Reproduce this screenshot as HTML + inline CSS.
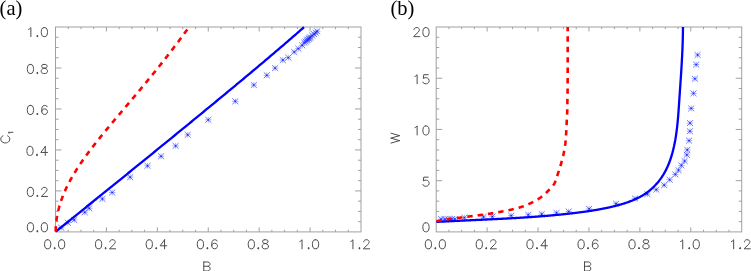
<!DOCTYPE html>
<html><head><meta charset="utf-8"><style>
html,body{margin:0;padding:0;background:#fff;width:751px;height:271px;overflow:hidden}
svg{display:block;will-change:transform}
.tl{font-family:"Liberation Sans",sans-serif;font-size:14.4px;fill:#4c4c4c;letter-spacing:0.6px}
.ax{font-family:"Liberation Sans",sans-serif;font-size:14px;fill:#4c4c4c}
.pl{font-family:"Liberation Serif",serif;font-size:22px;fill:#000}
</style></head><body>
<svg width="751" height="271" viewBox="0 0 751 271">
<rect width="751" height="271" fill="#fff"/>

<rect x="55.50" y="27.00" width="305.50" height="204.90" fill="none" stroke="#a0a0a0" stroke-width="1"/>
<path d="M68.23 231.90v-2.2M68.23 27.00v2.2M80.96 231.90v-2.2M80.96 27.00v2.2M93.69 231.90v-2.2M93.69 27.00v2.2M106.42 231.90v-4.5M106.42 27.00v4.5M119.15 231.90v-2.2M119.15 27.00v2.2M131.88 231.90v-2.2M131.88 27.00v2.2M144.60 231.90v-2.2M144.60 27.00v2.2M157.33 231.90v-4.5M157.33 27.00v4.5M170.06 231.90v-2.2M170.06 27.00v2.2M182.79 231.90v-2.2M182.79 27.00v2.2M195.52 231.90v-2.2M195.52 27.00v2.2M208.25 231.90v-4.5M208.25 27.00v4.5M220.98 231.90v-2.2M220.98 27.00v2.2M233.71 231.90v-2.2M233.71 27.00v2.2M246.44 231.90v-2.2M246.44 27.00v2.2M259.17 231.90v-4.5M259.17 27.00v4.5M271.90 231.90v-2.2M271.90 27.00v2.2M284.62 231.90v-2.2M284.62 27.00v2.2M297.35 231.90v-2.2M297.35 27.00v2.2M310.08 231.90v-4.5M310.08 27.00v4.5M322.81 231.90v-2.2M322.81 27.00v2.2M335.54 231.90v-2.2M335.54 27.00v2.2M348.27 231.90v-2.2M348.27 27.00v2.2M55.50 221.66h3.0M361.00 221.66h-3.0M55.50 211.41h3.0M361.00 211.41h-3.0M55.50 201.16h3.0M361.00 201.16h-3.0M55.50 190.92h6.0M361.00 190.92h-6.0M55.50 180.68h3.0M361.00 180.68h-3.0M55.50 170.43h3.0M361.00 170.43h-3.0M55.50 160.19h3.0M361.00 160.19h-3.0M55.50 149.94h6.0M361.00 149.94h-6.0M55.50 139.69h3.0M361.00 139.69h-3.0M55.50 129.45h3.0M361.00 129.45h-3.0M55.50 119.20h3.0M361.00 119.20h-3.0M55.50 108.96h6.0M361.00 108.96h-6.0M55.50 98.72h3.0M361.00 98.72h-3.0M55.50 88.47h3.0M361.00 88.47h-3.0M55.50 78.22h3.0M361.00 78.22h-3.0M55.50 67.98h6.0M361.00 67.98h-6.0M55.50 57.73h3.0M361.00 57.73h-3.0M55.50 47.49h3.0M361.00 47.49h-3.0M55.50 37.24h3.0M361.00 37.24h-3.0" stroke="#a0a0a0" stroke-width="1" fill="none"/>
<rect x="436.20" y="27.00" width="305.50" height="204.90" fill="none" stroke="#a0a0a0" stroke-width="1"/>
<path d="M448.93 231.90v-2.2M448.93 27.00v2.2M461.66 231.90v-2.2M461.66 27.00v2.2M474.39 231.90v-2.2M474.39 27.00v2.2M487.12 231.90v-4.5M487.12 27.00v4.5M499.85 231.90v-2.2M499.85 27.00v2.2M512.58 231.90v-2.2M512.58 27.00v2.2M525.30 231.90v-2.2M525.30 27.00v2.2M538.03 231.90v-4.5M538.03 27.00v4.5M550.76 231.90v-2.2M550.76 27.00v2.2M563.49 231.90v-2.2M563.49 27.00v2.2M576.22 231.90v-2.2M576.22 27.00v2.2M588.95 231.90v-4.5M588.95 27.00v4.5M601.68 231.90v-2.2M601.68 27.00v2.2M614.41 231.90v-2.2M614.41 27.00v2.2M627.14 231.90v-2.2M627.14 27.00v2.2M639.87 231.90v-4.5M639.87 27.00v4.5M652.60 231.90v-2.2M652.60 27.00v2.2M665.33 231.90v-2.2M665.33 27.00v2.2M678.05 231.90v-2.2M678.05 27.00v2.2M690.78 231.90v-4.5M690.78 27.00v4.5M703.51 231.90v-2.2M703.51 27.00v2.2M716.24 231.90v-2.2M716.24 27.00v2.2M728.97 231.90v-2.2M728.97 27.00v2.2M436.20 221.66h3.0M741.70 221.66h-3.0M436.20 211.41h3.0M741.70 211.41h-3.0M436.20 201.17h3.0M741.70 201.17h-3.0M436.20 190.92h3.0M741.70 190.92h-3.0M436.20 180.68h6.0M741.70 180.68h-6.0M436.20 170.43h3.0M741.70 170.43h-3.0M436.20 160.19h3.0M741.70 160.19h-3.0M436.20 149.94h3.0M741.70 149.94h-3.0M436.20 139.69h3.0M741.70 139.69h-3.0M436.20 129.45h6.0M741.70 129.45h-6.0M436.20 119.20h3.0M741.70 119.20h-3.0M436.20 108.96h3.0M741.70 108.96h-3.0M436.20 98.72h3.0M741.70 98.72h-3.0M436.20 88.47h3.0M741.70 88.47h-3.0M436.20 78.22h6.0M741.70 78.22h-6.0M436.20 67.98h3.0M741.70 67.98h-3.0M436.20 57.74h3.0M741.70 57.74h-3.0M436.20 47.49h3.0M741.70 47.49h-3.0M436.20 37.25h3.0M741.70 37.25h-3.0" stroke="#a0a0a0" stroke-width="1" fill="none"/>
<path d="M58.00 227.60h6.40M61.20 224.80v5.60M64.60 222.70h6.40M67.80 219.90v5.60M71.00 219.90h6.40M74.20 217.10v5.60M81.50 212.30h6.40M84.70 209.50v5.60M86.10 208.30h6.40M89.30 205.50v5.60M99.20 198.90h6.40M102.40 196.10v5.60M109.00 192.50h6.40M112.20 189.70v5.60M127.00 177.20h6.40M130.20 174.40v5.60M144.30 165.80h6.40M147.50 163.00v5.60M157.90 156.30h6.40M161.10 153.50v5.60M172.40 145.90h6.40M175.60 143.10v5.60M184.50 134.80h6.40M187.70 132.00v5.60M205.10 119.80h6.40M208.30 117.00v5.60M232.10 101.30h6.40M235.30 98.50v5.60M250.60 85.00h6.40M253.80 82.20v5.60M263.60 75.30h6.40M266.80 72.50v5.60M271.90 68.10h6.40M275.10 65.30v5.60M279.60 60.10h6.40M282.80 57.30v5.60M285.10 57.60h6.40M288.30 54.80v5.60M291.00 52.00h6.40M294.20 49.20v5.60M295.10 48.60h6.40M298.30 45.80v5.60M299.10 45.40h6.40M302.30 42.60v5.60M301.10 42.63h6.40M304.30 39.83v5.60M302.40 41.49h6.40M305.60 38.69v5.60M303.60 40.44h6.40M306.80 37.64v5.60M304.40 39.73h6.40M307.60 36.93v5.60M305.50 38.77h6.40M308.70 35.97v5.60M306.30 38.07h6.40M309.50 35.27v5.60M307.30 37.19h6.40M310.50 34.39v5.60M309.10 35.61h6.40M312.30 32.81v5.60M310.80 34.12h6.40M314.00 31.32v5.60M312.40 32.72h6.40M315.60 29.92v5.60M314.00 31.31h6.40M317.20 28.51v5.60M438.00 219.05h6.40M441.20 216.25v5.60M441.60 219.05h6.40M444.80 216.25v5.60M445.20 219.05h6.40M448.40 216.25v5.60M448.60 219.05h6.40M451.80 216.25v5.60M451.60 219.05h6.40M454.80 216.25v5.60M461.20 217.65h6.40M464.40 214.85v5.60M480.30 216.95h6.40M483.50 214.15v5.60M489.20 216.55h6.40M492.40 213.75v5.60M508.00 215.60h6.40M511.20 212.80v5.60M525.10 214.80h6.40M528.30 212.00v5.60M538.50 214.10h6.40M541.70 211.30v5.60M553.30 212.90h6.40M556.50 210.10v5.60M565.50 211.50h6.40M568.70 208.70v5.60M585.90 208.85h6.40M589.10 206.05v5.60M612.90 203.65h6.40M616.10 200.85v5.60M631.80 198.55h6.40M635.00 195.75v5.60M644.20 194.15h6.40M647.40 191.35v5.60M653.10 189.65h6.40M656.30 186.85v5.60M661.00 185.15h6.40M664.20 182.35v5.60M666.40 179.75h6.40M669.60 176.95v5.60M672.10 174.45h6.40M675.30 171.65v5.60M675.30 170.15h6.40M678.50 167.35v5.60M678.20 165.45h6.40M681.40 162.65v5.60M681.40 161.05h6.40M684.60 158.25v5.60M683.60 154.85h6.40M686.80 152.05v5.60M684.10 149.85h6.40M687.30 147.05v5.60M685.90 140.65h6.40M689.10 137.85v5.60M686.70 131.25h6.40M689.90 128.45v5.60M686.80 123.05h6.40M690.00 120.25v5.60M688.00 108.45h6.40M691.20 105.65v5.60M690.30 93.35h6.40M693.50 90.55v5.60M691.70 78.75h6.40M694.90 75.95v5.60M693.00 64.55h6.40M696.20 61.75v5.60M694.40 54.95h6.40M697.60 52.15v5.60" stroke="#2535ff" stroke-width="0.55" fill="none" opacity="0.75"/>
<path d="M58.20 224.70L64.20 230.50M58.20 230.50L64.20 224.70M64.80 219.80L70.80 225.60M64.80 225.60L70.80 219.80M71.20 217.00L77.20 222.80M71.20 222.80L77.20 217.00M81.70 209.40L87.70 215.20M81.70 215.20L87.70 209.40M86.30 205.40L92.30 211.20M86.30 211.20L92.30 205.40M99.40 196.00L105.40 201.80M99.40 201.80L105.40 196.00M109.20 189.60L115.20 195.40M109.20 195.40L115.20 189.60M127.20 174.30L133.20 180.10M127.20 180.10L133.20 174.30M144.50 162.90L150.50 168.70M144.50 168.70L150.50 162.90M158.10 153.40L164.10 159.20M158.10 159.20L164.10 153.40M172.60 143.00L178.60 148.80M172.60 148.80L178.60 143.00M184.70 131.90L190.70 137.70M184.70 137.70L190.70 131.90M205.30 116.90L211.30 122.70M205.30 122.70L211.30 116.90M232.30 98.40L238.30 104.20M232.30 104.20L238.30 98.40M250.80 82.10L256.80 87.90M250.80 87.90L256.80 82.10M263.80 72.40L269.80 78.20M263.80 78.20L269.80 72.40M272.10 65.20L278.10 71.00M272.10 71.00L278.10 65.20M279.80 57.20L285.80 63.00M279.80 63.00L285.80 57.20M285.30 54.70L291.30 60.50M285.30 60.50L291.30 54.70M291.20 49.10L297.20 54.90M291.20 54.90L297.20 49.10M295.30 45.70L301.30 51.50M295.30 51.50L301.30 45.70M299.30 42.50L305.30 48.30M299.30 48.30L305.30 42.50M301.30 39.73L307.30 45.53M301.30 45.53L307.30 39.73M302.60 38.59L308.60 44.39M302.60 44.39L308.60 38.59M303.80 37.54L309.80 43.34M303.80 43.34L309.80 37.54M304.60 36.83L310.60 42.63M304.60 42.63L310.60 36.83M305.70 35.87L311.70 41.67M305.70 41.67L311.70 35.87M306.50 35.17L312.50 40.97M306.50 40.97L312.50 35.17M307.50 34.29L313.50 40.09M307.50 40.09L313.50 34.29M309.30 32.71L315.30 38.51M309.30 38.51L315.30 32.71M311.00 31.22L317.00 37.02M311.00 37.02L317.00 31.22M312.60 29.82L318.60 35.62M312.60 35.62L318.60 29.82M314.20 28.41L320.20 34.21M314.20 34.21L320.20 28.41M438.20 216.15L444.20 221.95M438.20 221.95L444.20 216.15M441.80 216.15L447.80 221.95M441.80 221.95L447.80 216.15M445.40 216.15L451.40 221.95M445.40 221.95L451.40 216.15M448.80 216.15L454.80 221.95M448.80 221.95L454.80 216.15M451.80 216.15L457.80 221.95M451.80 221.95L457.80 216.15M461.40 214.75L467.40 220.55M461.40 220.55L467.40 214.75M480.50 214.05L486.50 219.85M480.50 219.85L486.50 214.05M489.40 213.65L495.40 219.45M489.40 219.45L495.40 213.65M508.20 212.70L514.20 218.50M508.20 218.50L514.20 212.70M525.30 211.90L531.30 217.70M525.30 217.70L531.30 211.90M538.70 211.20L544.70 217.00M538.70 217.00L544.70 211.20M553.50 210.00L559.50 215.80M553.50 215.80L559.50 210.00M565.70 208.60L571.70 214.40M565.70 214.40L571.70 208.60M586.10 205.95L592.10 211.75M586.10 211.75L592.10 205.95M613.10 200.75L619.10 206.55M613.10 206.55L619.10 200.75M632.00 195.65L638.00 201.45M632.00 201.45L638.00 195.65M644.40 191.25L650.40 197.05M644.40 197.05L650.40 191.25M653.30 186.75L659.30 192.55M653.30 192.55L659.30 186.75M661.20 182.25L667.20 188.05M661.20 188.05L667.20 182.25M666.60 176.85L672.60 182.65M666.60 182.65L672.60 176.85M672.30 171.55L678.30 177.35M672.30 177.35L678.30 171.55M675.50 167.25L681.50 173.05M675.50 173.05L681.50 167.25M678.40 162.55L684.40 168.35M678.40 168.35L684.40 162.55M681.60 158.15L687.60 163.95M681.60 163.95L687.60 158.15M683.80 151.95L689.80 157.75M683.80 157.75L689.80 151.95M684.30 146.95L690.30 152.75M684.30 152.75L690.30 146.95M686.10 137.75L692.10 143.55M686.10 143.55L692.10 137.75M686.90 128.35L692.90 134.15M686.90 134.15L692.90 128.35M687.00 120.15L693.00 125.95M687.00 125.95L693.00 120.15M688.20 105.55L694.20 111.35M688.20 111.35L694.20 105.55M690.50 90.45L696.50 96.25M690.50 96.25L696.50 90.45M691.90 75.85L697.90 81.65M691.90 81.65L697.90 75.85M693.20 61.65L699.20 67.45M693.20 67.45L699.20 61.65M694.60 52.05L700.60 57.85M694.60 57.85L700.60 52.05" stroke="#2535ff" stroke-width="0.75" fill="none" opacity="0.9"/>
<path d="M60.60 227.60h1.2M67.20 222.70h1.2M73.60 219.90h1.2M84.10 212.30h1.2M88.70 208.30h1.2M101.80 198.90h1.2M111.60 192.50h1.2M129.60 177.20h1.2M146.90 165.80h1.2M160.50 156.30h1.2M175.00 145.90h1.2M187.10 134.80h1.2M207.70 119.80h1.2M234.70 101.30h1.2M253.20 85.00h1.2M266.20 75.30h1.2M274.50 68.10h1.2M282.20 60.10h1.2M287.70 57.60h1.2M293.60 52.00h1.2M297.70 48.60h1.2M301.70 45.40h1.2M303.70 42.63h1.2M305.00 41.49h1.2M306.20 40.44h1.2M307.00 39.73h1.2M308.10 38.77h1.2M308.90 38.07h1.2M309.90 37.19h1.2M311.70 35.61h1.2M313.40 34.12h1.2M315.00 32.72h1.2M316.60 31.31h1.2M440.60 219.05h1.2M444.20 219.05h1.2M447.80 219.05h1.2M451.20 219.05h1.2M454.20 219.05h1.2M463.80 217.65h1.2M482.90 216.95h1.2M491.80 216.55h1.2M510.60 215.60h1.2M527.70 214.80h1.2M541.10 214.10h1.2M555.90 212.90h1.2M568.10 211.50h1.2M588.50 208.85h1.2M615.50 203.65h1.2M634.40 198.55h1.2M646.80 194.15h1.2M655.70 189.65h1.2M663.60 185.15h1.2M669.00 179.75h1.2M674.70 174.45h1.2M677.90 170.15h1.2M680.80 165.45h1.2M684.00 161.05h1.2M686.20 154.85h1.2M686.70 149.85h1.2M688.50 140.65h1.2M689.30 131.25h1.2M689.40 123.05h1.2M690.60 108.45h1.2M692.90 93.35h1.2M694.30 78.75h1.2M695.60 64.55h1.2M697.00 54.95h1.2" stroke="#1020ff" stroke-width="1.2" fill="none"/>
<path d="M55.70 231.60 L56.95 230.60 L58.20 229.60 L59.44 228.60 L60.69 227.59 L61.94 226.59 L63.19 225.59 L64.43 224.59 L65.68 223.58 L66.93 222.58 L68.18 221.58 L69.42 220.58 L70.67 219.57 L71.92 218.57 L73.17 217.57 L74.42 216.56 L75.66 215.56 L76.91 214.55 L78.16 213.55 L79.41 212.55 L80.65 211.54 L81.90 210.54 L83.15 209.53 L84.40 208.53 L85.64 207.52 L86.89 206.52 L88.14 205.51 L89.39 204.51 L90.64 203.50 L91.88 202.49 L93.13 201.49 L94.38 200.48 L95.63 199.48 L96.87 198.47 L98.12 197.46 L99.37 196.46 L100.62 195.45 L101.86 194.44 L103.11 193.44 L104.36 192.43 L105.61 191.42 L106.86 190.41 L108.10 189.41 L109.35 188.40 L110.60 187.39 L111.85 186.38 L113.09 185.37 L114.34 184.37 L115.59 183.36 L116.84 182.35 L118.08 181.34 L119.33 180.33 L120.58 179.32 L121.83 178.31 L123.08 177.30 L124.32 176.29 L125.57 175.28 L126.82 174.27 L128.07 173.26 L129.31 172.25 L130.56 171.24 L131.81 170.23 L133.06 169.22 L134.30 168.21 L135.55 167.20 L136.80 166.18 L138.05 165.17 L139.30 164.16 L140.54 163.15 L141.79 162.14 L143.04 161.12 L144.29 160.11 L145.53 159.10 L146.78 158.09 L148.03 157.07 L149.28 156.06 L150.52 155.05 L151.77 154.03 L153.02 153.02 L154.27 152.01 L155.52 150.99 L156.76 149.98 L158.01 148.96 L159.26 147.95 L160.51 146.93 L161.75 145.92 L163.00 144.90 L164.25 143.89 L165.50 142.87 L166.74 141.85 L167.99 140.84 L169.24 139.82 L170.49 138.81 L171.73 137.79 L172.98 136.77 L174.23 135.75 L175.48 134.74 L176.73 133.72 L177.97 132.70 L179.22 131.68 L180.47 130.66 L181.72 129.65 L182.96 128.63 L184.21 127.61 L185.46 126.59 L186.71 125.57 L187.95 124.55 L189.20 123.53 L190.45 122.51 L191.70 121.49 L192.95 120.46 L194.19 119.44 L195.44 118.42 L196.69 117.40 L197.94 116.38 L199.18 115.35 L200.43 114.33 L201.68 113.31 L202.93 112.28 L204.17 111.26 L205.42 110.23 L206.67 109.21 L207.92 108.18 L209.17 107.16 L210.41 106.13 L211.66 105.11 L212.91 104.08 L214.16 103.05 L215.40 102.02 L216.65 101.00 L217.90 99.97 L219.15 98.94 L220.39 97.91 L221.64 96.88 L222.89 95.85 L224.14 94.82 L225.39 93.79 L226.63 92.75 L227.88 91.72 L229.13 90.69 L230.38 89.66 L231.62 88.62 L232.87 87.59 L234.12 86.55 L235.37 85.52 L236.61 84.48 L237.86 83.44 L239.11 82.41 L240.36 81.37 L241.61 80.33 L242.85 79.29 L244.10 78.25 L245.35 77.21 L246.60 76.17 L247.84 75.13 L249.09 74.08 L250.34 73.04 L251.59 72.00 L252.83 70.95 L254.08 69.90 L255.33 68.86 L256.58 67.81 L257.83 66.76 L259.07 65.71 L260.32 64.66 L261.57 63.61 L262.82 62.56 L264.06 61.51 L265.31 60.45 L266.56 59.40 L267.81 58.34 L269.05 57.29 L270.30 56.23 L271.55 55.17 L272.80 54.11 L274.05 53.05 L275.29 51.99 L276.54 50.92 L277.79 49.86 L279.04 48.79 L280.28 47.73 L281.53 46.66 L282.78 45.59 L284.03 44.52 L285.27 43.45 L286.52 42.38 L287.77 41.30 L289.02 40.23 L290.27 39.15 L291.51 38.07 L292.76 36.99 L294.01 35.91 L295.26 34.83 L296.50 33.74 L297.75 32.65 L299.00 31.57 L300.25 30.48 L301.49 29.39 L302.74 28.29 L303.99 27.20" stroke="#0000ff" stroke-width="2.3" fill="none"/>
<path d="M55.70 231.60 L55.70 231.33 L55.70 231.05 L55.70 230.78 L55.71 230.51 L55.71 230.24 L55.72 229.96 L55.72 229.69 L55.73 229.42 L55.73 229.14 L55.74 228.87 L55.75 228.60 L55.76 228.33 L55.77 228.05 L55.78 227.78 L55.80 227.51 L55.81 227.23 L55.82 226.96 L55.84 226.69 L55.85 226.42 L55.87 226.14 L55.89 225.87 L55.91 225.60 L55.93 225.32 L55.95 225.05 L55.97 224.78 L55.99 224.50 L56.01 224.23 L56.03 223.96 L56.06 223.68 L56.08 223.41 L56.11 223.14 L56.14 222.87 L56.16 222.59 L56.19 222.32 L56.22 222.05 L56.25 221.77 L56.28 221.50 L56.31 221.23 L56.35 220.95 L56.38 220.68 L56.42 220.41 L56.45 220.13 L56.49 219.86 L56.52 219.58 L56.56 219.31 L56.60 219.04 L56.64 218.76 L56.68 218.49 L56.72 218.22 L56.76 217.94 L56.81 217.67 L56.85 217.40 L56.90 217.12 L56.94 216.85 L56.99 216.57 L57.04 216.30 L57.08 216.03 L57.13 215.75 L57.18 215.48 L57.23 215.20 L57.28 214.93 L57.34 214.65 L57.39 214.38 L57.44 214.11 L57.50 213.83 L57.56 213.56 L57.61 213.28 L57.67 213.01 L57.73 212.73 L57.79 212.46 L57.85 212.18 L57.91 211.91 L57.97 211.63 L58.03 211.36 L58.10 211.08 L58.16 210.81 L58.22 210.53 L58.29 210.26 L58.36 209.98 L58.43 209.71 L58.49 209.43 L58.56 209.16 L58.63 208.88 L58.70 208.61 L58.78 208.33 L58.85 208.06 L58.92 207.78 L59.00 207.50 L59.07 207.23 L59.15 206.95 L59.23 206.68 L59.30 206.40 L59.38 206.12 L59.46 205.85 L59.54 205.57 L59.62 205.30 L59.71 205.02 L59.79 204.74 L59.87 204.47 L59.96 204.19 L60.04 203.91 L60.13 203.64 L60.22 203.36 L60.31 203.08 L60.40 202.80 L60.48 202.53 L60.58 202.25 L60.67 201.97 L60.76 201.70 L60.85 201.42 L60.95 201.14 L61.04 200.86 L61.14 200.58 L61.23 200.31 L61.33 200.03 L61.43 199.75 L61.53 199.47 L61.63 199.19 L61.73 198.92 L61.83 198.64 L61.94 198.36 L62.04 198.08 L62.14 197.80 L62.25 197.52 L62.35 197.24 L62.46 196.96 L62.57 196.68 L62.68 196.40 L62.79 196.12 L62.90 195.84 L63.01 195.56 L63.12 195.28 L63.23 195.00 L63.35 194.72 L63.46 194.44 L63.58 194.16 L63.69 193.88 L63.81 193.60 L63.93 193.32 L64.05 193.04 L64.17 192.76 L64.29 192.48 L64.41 192.20 L64.53 191.92 L64.65 191.63 L64.78 191.35 L64.90 191.07 L65.03 190.79 L65.15 190.51 L65.28 190.22 L65.41 189.94 L65.54 189.66 L65.67 189.38 L65.80 189.09 L65.93 188.81 L66.06 188.53 L66.20 188.24 L66.33 187.96 L66.47 187.68 L66.60 187.39 L66.74 187.11 L66.88 186.82 L67.01 186.54 L67.15 186.25 L67.29 185.97 L67.44 185.68 L67.58 185.40 L67.72 185.11 L67.86 184.83 L68.01 184.54 L68.15 184.26 L68.30 183.97 L68.45 183.69 L68.59 183.40 L68.74 183.11 L68.89 182.83 L69.04 182.54 L69.19 182.25 L69.35 181.97 L69.50 181.68 L69.65 181.39 L69.81 181.10 L69.96 180.81 L70.12 180.53 L70.28 180.24 L70.43 179.95 L70.59 179.66 L70.75 179.37 L70.91 179.08 L71.07 178.79 L71.24 178.50 L71.40 178.21 L71.56 177.92 L71.73 177.63 L71.89 177.34 L72.06 177.05 L72.23 176.76 L72.40 176.47 L72.56 176.18 L72.73 175.89 L72.91 175.59 L73.08 175.30 L73.25 175.01 L73.42 174.72 L73.60 174.42 L73.77 174.13 L73.95 173.84 L74.12 173.54 L74.30 173.25 L74.48 172.95 L74.66 172.66 L74.84 172.37 L75.02 172.07 L75.20 171.78 L75.39 171.48 L75.57 171.18 L75.75 170.89 L75.94 170.59 L76.12 170.30 L76.31 170.00 L76.50 169.70 L76.69 169.40 L76.88 169.11 L77.07 168.81 L77.26 168.51 L77.45 168.21 L77.64 167.91 L77.84 167.61 L78.03 167.31 L78.23 167.01 L78.42 166.71 L78.62 166.41 L78.82 166.11 L79.02 165.81 L79.22 165.51 L79.42 165.21 L79.62 164.91 L79.82 164.61 L80.03 164.30 L80.23 164.00 L80.43 163.70 L80.64 163.39 L80.85 163.09 L81.05 162.79 L81.26 162.48 L81.47 162.18 L81.68 161.87 L81.89 161.56 L82.10 161.26 L82.32 160.95 L82.53 160.65 L82.74 160.34 L82.96 160.03 L83.17 159.72 L83.39 159.42 L83.61 159.11 L83.83 158.80 L84.05 158.49 L84.27 158.18 L84.49 157.87 L84.71 157.56 L84.93 157.25 L85.16 156.94 L85.38 156.63 L85.61 156.31 L85.83 156.00 L86.06 155.69 L86.29 155.38 L86.52 155.06 L86.75 154.75 L86.98 154.43 L87.21 154.12 L87.44 153.80 L87.67 153.49 L87.91 153.17 L88.14 152.86 L88.38 152.54 L88.61 152.22 L88.85 151.90 L89.09 151.58 L89.33 151.27 L89.57 150.95 L89.81 150.63 L90.05 150.31 L90.29 149.99 L90.53 149.67 L90.78 149.34 L91.02 149.02 L91.27 148.70 L91.52 148.38 L91.76 148.05 L92.01 147.73 L92.26 147.40 L92.51 147.08 L92.76 146.75 L93.01 146.43 L93.26 146.10 L93.52 145.78 L93.77 145.45 L94.03 145.12 L94.28 144.79 L94.54 144.46 L94.80 144.13 L95.06 143.80 L95.32 143.47 L95.58 143.14 L95.84 142.81 L96.10 142.48 L96.36 142.14 L96.63 141.81 L96.89 141.48 L97.16 141.14 L97.42 140.81 L97.69 140.47 L97.96 140.14 L98.22 139.80 L98.49 139.46 L98.76 139.12 L99.04 138.79 L99.31 138.45 L99.58 138.11 L99.86 137.77 L100.13 137.43 L100.41 137.08 L100.68 136.74 L100.96 136.40 L101.24 136.06 L101.52 135.71 L101.80 135.37 L102.08 135.02 L102.36 134.68 L102.64 134.33 L102.92 133.98 L103.21 133.63 L103.49 133.29 L103.78 132.94 L104.06 132.59 L104.35 132.24 L104.64 131.89 L104.93 131.53 L105.22 131.18 L105.51 130.83 L105.80 130.47 L106.09 130.12 L106.39 129.76 L106.68 129.41 L106.98 129.05 L107.27 128.69 L107.57 128.34 L107.87 127.98 L108.17 127.62 L108.47 127.26 L108.77 126.90 L109.07 126.53 L109.37 126.17 L109.67 125.81 L109.98 125.44 L110.28 125.08 L110.59 124.71 L110.89 124.35 L111.20 123.98 L111.51 123.61 L111.82 123.24 L112.13 122.87 L112.44 122.50 L112.75 122.13 L113.06 121.76 L113.37 121.38 L113.69 121.01 L114.00 120.64 L114.32 120.26 L114.63 119.88 L114.95 119.51 L115.27 119.13 L115.59 118.75 L115.91 118.37 L116.23 117.99 L116.55 117.61 L116.87 117.23 L117.19 116.84 L117.52 116.46 L117.84 116.07 L118.17 115.69 L118.50 115.30 L118.82 114.91 L119.15 114.53 L119.48 114.14 L119.81 113.75 L120.14 113.35 L120.47 112.96 L120.81 112.57 L121.14 112.17 L121.47 111.78 L121.81 111.38 L122.15 110.99 L122.48 110.59 L122.82 110.19 L123.16 109.79 L123.50 109.39 L123.84 108.99 L124.18 108.58 L124.52 108.18 L124.86 107.77 L125.21 107.37 L125.55 106.96 L125.90 106.55 L126.24 106.14 L126.59 105.73 L126.94 105.32 L127.29 104.91 L127.64 104.49 L127.99 104.08 L128.34 103.66 L128.69 103.25 L129.04 102.83 L129.40 102.41 L129.75 101.99 L130.11 101.57 L130.46 101.15 L130.82 100.72 L131.18 100.30 L131.54 99.87 L131.90 99.45 L132.26 99.02 L132.62 98.59 L132.98 98.16 L133.35 97.73 L133.71 97.30 L134.08 96.86 L134.44 96.43 L134.81 95.99 L135.18 95.55 L135.54 95.11 L135.91 94.67 L136.28 94.23 L136.65 93.79 L137.03 93.35 L137.40 92.90 L137.77 92.46 L138.15 92.01 L138.52 91.56 L138.90 91.11 L139.28 90.66 L139.65 90.21 L140.03 89.75 L140.41 89.30 L140.79 88.84 L141.17 88.38 L141.55 87.92 L141.94 87.46 L142.32 87.00 L142.71 86.54 L143.09 86.07 L143.48 85.61 L143.86 85.14 L144.25 84.67 L144.64 84.20 L145.03 83.73 L145.42 83.26 L145.81 82.78 L146.20 82.31 L146.60 81.83 L146.99 81.35 L147.39 80.87 L147.78 80.39 L148.18 79.91 L148.58 79.42 L148.97 78.94 L149.37 78.45 L149.77 77.96 L150.17 77.47 L150.58 76.98 L150.98 76.48 L151.38 75.99 L151.79 75.49 L152.19 75.00 L152.60 74.50 L153.00 73.99 L153.41 73.49 L153.82 72.99 L154.23 72.48 L154.64 71.97 L155.05 71.47 L155.46 70.95 L155.87 70.44 L156.29 69.93 L156.70 69.41 L157.12 68.90 L157.53 68.38 L157.95 67.86 L158.37 67.33 L158.79 66.81 L159.21 66.28 L159.63 65.76 L160.05 65.23 L160.47 64.70 L160.89 64.16 L161.32 63.63 L161.74 63.09 L162.17 62.56 L162.59 62.02 L163.02 61.48 L163.45 60.93 L163.88 60.39 L164.31 59.84 L164.74 59.29 L165.17 58.74 L165.60 58.19 L166.03 57.64 L166.47 57.08 L166.90 56.52 L167.34 55.97 L167.77 55.40 L168.21 54.84 L168.65 54.28 L169.09 53.71 L169.53 53.14 L169.97 52.57 L170.41 52.00 L170.85 51.42 L171.30 50.84 L171.74 50.27 L172.19 49.69 L172.63 49.10 L173.08 48.52 L173.53 47.93 L173.97 47.34 L174.42 46.75 L174.87 46.16 L175.32 45.57 L175.78 44.97 L176.23 44.37 L176.68 43.77 L177.14 43.17 L177.59 42.56 L178.05 41.95 L178.51 41.35 L178.96 40.73 L179.42 40.12 L179.88 39.50 L180.34 38.89 L180.80 38.27 L181.27 37.64 L181.73 37.02 L182.19 36.39 L182.66 35.77 L183.12 35.13 L183.59 34.50 L184.06 33.87 L184.52 33.23 L184.99 32.59 L185.46 31.95 L185.93 31.30 L186.40 30.65 L186.88 30.01 L187.35 29.35 L187.82 28.70 L188.30 28.04 L188.77 27.39 L188.91 27.20" stroke="#ff0000" stroke-width="2.6" fill="none" stroke-dasharray="5.4 5.02"/>
<path d="M436.40 221.90 L437.05 221.86 L437.70 221.83 L438.35 221.79 L439.01 221.76 L439.66 221.72 L440.31 221.69 L440.96 221.66 L441.61 221.62 L442.26 221.59 L442.91 221.55 L443.56 221.52 L444.22 221.49 L444.87 221.45 L445.52 221.42 L446.17 221.39 L446.82 221.35 L447.47 221.32 L448.12 221.29 L448.77 221.26 L449.42 221.23 L450.07 221.19 L450.72 221.16 L451.37 221.13 L452.02 221.10 L452.67 221.07 L453.32 221.04 L453.97 221.00 L454.63 220.97 L455.28 220.94 L455.93 220.91 L456.58 220.88 L457.23 220.85 L457.88 220.82 L458.53 220.79 L459.18 220.76 L459.83 220.73 L460.47 220.70 L461.12 220.67 L461.77 220.64 L462.42 220.61 L463.07 220.58 L463.72 220.55 L464.37 220.52 L465.02 220.49 L465.67 220.46 L466.32 220.43 L466.97 220.40 L467.62 220.37 L468.27 220.34 L468.92 220.31 L469.57 220.28 L470.22 220.25 L470.87 220.23 L471.51 220.20 L472.16 220.17 L472.81 220.14 L473.46 220.11 L474.11 220.08 L474.76 220.05 L475.41 220.02 L476.06 219.99 L476.71 219.96 L477.35 219.93 L478.00 219.90 L478.65 219.87 L479.30 219.84 L479.95 219.81 L480.60 219.78 L481.25 219.76 L481.89 219.73 L482.54 219.70 L483.19 219.67 L483.84 219.64 L484.49 219.61 L485.14 219.58 L485.78 219.55 L486.43 219.52 L487.08 219.49 L487.73 219.46 L488.38 219.43 L489.02 219.40 L489.67 219.36 L490.32 219.33 L490.97 219.30 L491.62 219.27 L492.26 219.24 L492.91 219.21 L493.56 219.18 L494.21 219.15 L494.85 219.12 L495.50 219.09 L496.15 219.05 L496.80 219.02 L497.45 218.99 L498.09 218.96 L498.74 218.93 L499.39 218.89 L500.04 218.86 L500.68 218.83 L501.33 218.79 L501.98 218.76 L502.63 218.73 L503.27 218.70 L503.92 218.66 L504.57 218.63 L505.21 218.59 L505.86 218.56 L506.51 218.53 L507.16 218.49 L507.80 218.46 L508.45 218.42 L509.10 218.39 L509.74 218.35 L510.39 218.31 L511.04 218.28 L511.69 218.24 L512.33 218.21 L512.98 218.17 L513.63 218.13 L514.27 218.10 L514.92 218.06 L515.57 218.02 L516.21 217.98 L516.86 217.95 L517.51 217.91 L518.15 217.87 L518.80 217.83 L519.45 217.79 L520.09 217.75 L520.74 217.71 L521.39 217.67 L522.03 217.63 L522.68 217.59 L523.33 217.55 L523.97 217.51 L524.62 217.47 L525.27 217.42 L525.91 217.38 L526.56 217.34 L527.21 217.30 L527.85 217.25 L528.50 217.21 L529.15 217.17 L529.79 217.12 L530.44 217.08 L531.09 217.03 L531.73 216.99 L532.38 216.94 L533.03 216.90 L533.67 216.85 L534.32 216.80 L534.96 216.76 L535.61 216.71 L536.26 216.66 L536.90 216.61 L537.55 216.56 L538.20 216.52 L538.84 216.47 L539.49 216.42 L540.13 216.37 L540.78 216.32 L541.43 216.26 L542.07 216.21 L542.72 216.16 L543.37 216.11 L544.01 216.06 L544.66 216.00 L545.30 215.95 L545.95 215.90 L546.60 215.84 L547.24 215.79 L547.89 215.73 L548.53 215.68 L549.18 215.62 L549.83 215.56 L550.47 215.51 L551.12 215.45 L551.76 215.39 L552.41 215.33 L553.06 215.27 L553.70 215.21 L554.35 215.15 L555.00 215.09 L555.64 215.03 L556.29 214.97 L556.93 214.91 L557.58 214.85 L558.23 214.78 L558.87 214.72 L559.52 214.65 L560.16 214.59 L560.81 214.52 L561.46 214.46 L562.10 214.39 L562.75 214.33 L563.39 214.26 L564.04 214.19 L564.69 214.12 L565.33 214.05 L565.98 213.98 L566.62 213.91 L567.27 213.84 L567.91 213.77 L568.56 213.70 L569.21 213.63 L569.85 213.55 L570.50 213.48 L571.14 213.41 L571.79 213.33 L572.44 213.26 L573.08 213.18 L573.73 213.10 L574.37 213.03 L575.02 212.95 L575.67 212.87 L576.31 212.79 L576.96 212.71 L577.60 212.63 L578.25 212.55 L578.90 212.47 L579.54 212.39 L580.19 212.30 L580.83 212.22 L581.48 212.13 L582.13 212.05 L582.77 211.96 L583.42 211.88 L584.06 211.79 L584.71 211.70 L585.36 211.61 L586.00 211.52 L586.65 211.43 L587.29 211.33 L587.94 211.24 L588.58 211.15 L589.23 211.05 L589.87 210.95 L590.52 210.86 L591.16 210.76 L591.81 210.66 L592.45 210.55 L593.10 210.45 L593.74 210.35 L594.39 210.24 L595.03 210.14 L595.67 210.03 L596.32 209.92 L596.96 209.81 L597.61 209.70 L598.25 209.58 L598.89 209.47 L599.53 209.35 L600.18 209.23 L600.82 209.11 L601.46 208.99 L602.10 208.87 L602.75 208.74 L603.39 208.62 L604.03 208.49 L604.67 208.36 L605.31 208.23 L605.95 208.10 L606.59 207.96 L607.23 207.83 L607.87 207.69 L608.51 207.55 L609.15 207.41 L609.79 207.26 L610.43 207.12 L611.07 206.97 L611.71 206.82 L612.35 206.67 L612.98 206.51 L613.62 206.36 L614.26 206.20 L614.89 206.04 L615.53 205.88 L616.17 205.71 L616.80 205.55 L617.44 205.38 L618.07 205.21 L618.71 205.03 L619.34 204.86 L619.98 204.68 L620.61 204.50 L621.24 204.31 L621.87 204.13 L622.50 203.94 L623.13 203.75 L623.76 203.55 L624.38 203.35 L625.01 203.15 L625.63 202.95 L626.25 202.74 L626.88 202.53 L627.50 202.31 L628.11 202.10 L628.73 201.87 L629.34 201.65 L629.96 201.42 L630.57 201.19 L631.17 200.95 L631.78 200.71 L632.38 200.47 L632.99 200.22 L633.58 199.97 L634.18 199.71 L634.78 199.45 L635.37 199.18 L635.96 198.91 L636.54 198.64 L637.13 198.36 L637.71 198.08 L638.28 197.79 L638.86 197.50 L639.43 197.20 L640.00 196.89 L640.56 196.59 L641.13 196.27 L641.68 195.95 L642.24 195.63 L642.79 195.30 L643.34 194.97 L643.88 194.63 L644.42 194.28 L644.96 193.93 L645.49 193.57 L646.02 193.21 L646.54 192.84 L647.06 192.47 L647.57 192.09 L648.09 191.70 L648.59 191.31 L649.09 190.92 L649.59 190.51 L650.09 190.11 L650.58 189.69 L651.06 189.27 L651.54 188.85 L652.02 188.42 L652.49 187.99 L652.96 187.55 L653.42 187.10 L653.88 186.66 L654.33 186.20 L654.78 185.74 L655.22 185.28 L655.66 184.81 L656.09 184.34 L656.52 183.86 L656.95 183.38 L657.37 182.90 L657.78 182.41 L658.19 181.91 L658.60 181.41 L659.00 180.91 L659.39 180.40 L659.78 179.89 L660.17 179.38 L660.55 178.86 L660.92 178.34 L661.29 177.81 L661.65 177.28 L662.01 176.75 L662.37 176.21 L662.71 175.67 L663.06 175.13 L663.39 174.58 L663.73 174.03 L664.05 173.47 L664.37 172.92 L664.69 172.36 L665.00 171.79 L665.30 171.23 L665.60 170.66 L665.90 170.09 L666.19 169.51 L666.47 168.94 L666.75 168.35 L667.03 167.77 L667.30 167.19 L667.56 166.60 L667.82 166.01 L668.08 165.42 L668.33 164.82 L668.58 164.22 L668.82 163.63 L669.06 163.02 L669.29 162.42 L669.52 161.82 L669.74 161.21 L669.96 160.60 L670.18 159.99 L670.39 159.38 L670.60 158.76 L670.80 158.15 L671.00 157.53 L671.20 156.91 L671.39 156.29 L671.58 155.67 L671.77 155.05 L671.95 154.43 L672.13 153.80 L672.30 153.17 L672.48 152.55 L672.64 151.92 L672.81 151.29 L672.97 150.66 L673.13 150.03 L673.28 149.40 L673.44 148.77 L673.59 148.14 L673.73 147.51 L673.87 146.87 L674.02 146.24 L674.15 145.61 L674.29 144.97 L674.42 144.34 L674.55 143.70 L674.68 143.07 L674.80 142.43 L674.92 141.79 L675.04 141.16 L675.16 140.52 L675.27 139.88 L675.39 139.24 L675.49 138.60 L675.60 137.96 L675.71 137.32 L675.81 136.69 L675.91 136.04 L676.01 135.40 L676.10 134.76 L676.20 134.12 L676.29 133.48 L676.38 132.84 L676.47 132.20 L676.56 131.55 L676.64 130.91 L676.72 130.27 L676.80 129.62 L676.88 128.98 L676.96 128.33 L677.04 127.69 L677.11 127.04 L677.18 126.40 L677.25 125.75 L677.32 125.10 L677.39 124.46 L677.46 123.81 L677.52 123.16 L677.59 122.52 L677.65 121.87 L677.71 121.22 L677.77 120.57 L677.83 119.92 L677.89 119.28 L677.95 118.63 L678.00 117.98 L678.06 117.33 L678.11 116.68 L678.17 116.03 L678.22 115.38 L678.27 114.73 L678.32 114.08 L678.37 113.43 L678.42 112.78 L678.47 112.12 L678.52 111.47 L678.56 110.82 L678.61 110.17 L678.66 109.52 L678.70 108.86 L678.75 108.21 L678.79 107.56 L678.84 106.91 L678.88 106.25 L678.93 105.60 L678.97 104.95 L679.01 104.29 L679.06 103.64 L679.10 102.99 L679.15 102.33 L679.19 101.68 L679.23 101.03 L679.28 100.37 L679.32 99.72 L679.36 99.06 L679.41 98.41 L679.45 97.75 L679.50 97.10 L679.54 96.45 L679.59 95.79 L679.63 95.14 L679.68 94.48 L679.72 93.83 L679.77 93.17 L679.81 92.52 L679.86 91.86 L679.90 91.21 L679.95 90.55 L679.99 89.90 L680.04 89.24 L680.08 88.59 L680.13 87.93 L680.17 87.27 L680.22 86.62 L680.26 85.96 L680.31 85.31 L680.35 84.65 L680.40 84.00 L680.44 83.34 L680.48 82.69 L680.53 82.03 L680.57 81.38 L680.62 80.72 L680.66 80.07 L680.71 79.41 L680.75 78.76 L680.79 78.10 L680.84 77.45 L680.88 76.79 L680.92 76.14 L680.97 75.48 L681.01 74.83 L681.05 74.18 L681.09 73.52 L681.14 72.87 L681.18 72.21 L681.22 71.56 L681.26 70.91 L681.30 70.25 L681.34 69.60 L681.38 68.94 L681.42 68.29 L681.46 67.64 L681.50 66.98 L681.54 66.33 L681.58 65.68 L681.62 65.03 L681.66 64.37 L681.70 63.72 L681.73 63.07 L681.77 62.42 L681.81 61.77 L681.84 61.12 L681.88 60.46 L681.91 59.81 L681.95 59.16 L681.98 58.51 L682.02 57.86 L682.05 57.21 L682.09 56.56 L682.12 55.91 L682.15 55.26 L682.18 54.61 L682.21 53.96 L682.24 53.31 L682.28 52.67 L682.31 52.02 L682.33 51.37 L682.36 50.72 L682.39 50.08 L682.42 49.43 L682.45 48.78 L682.47 48.13 L682.50 47.49 L682.52 46.84 L682.55 46.20 L682.57 45.55 L682.60 44.91 L682.62 44.26 L682.64 43.62 L682.66 42.97 L682.68 42.33 L682.70 41.69 L682.72 41.04 L682.74 40.40 L682.76 39.76 L682.78 39.12 L682.79 38.48 L682.81 37.84 L682.83 37.19 L682.84 36.55 L682.85 35.91 L682.87 35.28 L682.88 34.64 L682.89 34.00 L682.90 33.36 L682.91 32.72 L682.92 32.08 L682.93 31.45 L682.93 30.81 L682.94 30.17 L682.95 29.54 L682.95 28.90 L682.95 28.27 L682.96 27.63 L682.96 27.00" stroke="#0000ff" stroke-width="2.3" fill="none"/>
<path d="M436.40 221.30 L436.86 221.19 L437.33 221.08 L437.79 220.97 L438.26 220.87 L438.72 220.78 L439.19 220.68 L439.66 220.59 L440.13 220.51 L440.60 220.42 L441.07 220.33 L441.53 220.25 L442.00 220.17 L442.47 220.09 L442.94 220.01 L443.42 219.93 L443.89 219.85 L444.36 219.77 L444.83 219.70 L445.30 219.62 L445.77 219.55 L446.24 219.48 L446.71 219.41 L447.18 219.34 L447.66 219.27 L448.13 219.20 L448.60 219.13 L449.07 219.06 L449.54 218.99 L450.01 218.93 L450.49 218.87 L450.96 218.80 L451.43 218.74 L451.90 218.68 L452.38 218.62 L452.85 218.56 L453.32 218.50 L453.80 218.44 L454.27 218.39 L454.74 218.33 L455.22 218.27 L455.69 218.21 L456.16 218.15 L456.64 218.10 L457.11 218.04 L457.58 217.98 L458.06 217.92 L458.53 217.86 L459.00 217.80 L459.47 217.74 L459.95 217.68 L460.42 217.62 L460.89 217.55 L461.37 217.49 L461.84 217.43 L462.31 217.37 L462.78 217.31 L463.26 217.24 L463.73 217.18 L464.20 217.12 L464.67 217.06 L465.15 217.00 L465.62 216.93 L466.09 216.87 L466.56 216.81 L467.04 216.75 L467.51 216.68 L467.98 216.62 L468.46 216.56 L468.93 216.50 L469.40 216.44 L469.87 216.38 L470.35 216.32 L470.82 216.26 L471.29 216.20 L471.77 216.14 L472.24 216.08 L472.71 216.02 L473.18 215.96 L473.66 215.90 L474.13 215.84 L474.60 215.78 L475.08 215.72 L475.55 215.67 L476.02 215.61 L476.50 215.55 L476.97 215.49 L477.44 215.43 L477.91 215.36 L478.39 215.30 L478.86 215.24 L479.33 215.18 L479.80 215.11 L480.28 215.05 L480.75 214.98 L481.22 214.92 L481.69 214.85 L482.17 214.79 L482.64 214.72 L483.11 214.65 L483.58 214.59 L484.05 214.52 L484.52 214.45 L485.00 214.38 L485.47 214.31 L485.94 214.24 L486.41 214.17 L486.88 214.10 L487.35 214.03 L487.83 213.96 L488.30 213.88 L488.77 213.81 L489.24 213.74 L489.71 213.66 L490.18 213.59 L490.65 213.51 L491.12 213.44 L491.59 213.36 L492.06 213.28 L492.53 213.20 L493.00 213.12 L493.47 213.04 L493.94 212.96 L494.41 212.88 L494.88 212.80 L495.35 212.72 L495.82 212.63 L496.29 212.55 L496.76 212.47 L497.23 212.38 L497.70 212.30 L498.17 212.21 L498.64 212.13 L499.10 212.04 L499.57 211.95 L500.04 211.87 L500.51 211.78 L500.98 211.69 L501.45 211.61 L501.92 211.52 L502.39 211.43 L502.85 211.34 L503.32 211.26 L503.79 211.17 L504.26 211.08 L504.73 210.99 L505.20 210.90 L505.67 210.81 L506.13 210.72 L506.60 210.63 L507.07 210.53 L507.54 210.44 L508.00 210.35 L508.47 210.25 L508.94 210.15 L509.40 210.05 L509.87 209.95 L510.33 209.85 L510.80 209.75 L511.26 209.64 L511.73 209.53 L512.19 209.43 L512.66 209.32 L513.12 209.21 L513.59 209.10 L514.05 208.98 L514.51 208.87 L514.98 208.76 L515.44 208.64 L515.90 208.52 L516.37 208.40 L516.83 208.28 L517.29 208.15 L517.75 208.03 L518.21 207.90 L518.67 207.77 L519.13 207.64 L519.58 207.50 L520.04 207.36 L520.49 207.22 L520.94 207.08 L521.40 206.94 L521.85 206.79 L522.30 206.64 L522.75 206.48 L523.19 206.32 L523.64 206.16 L524.09 205.99 L524.54 205.82 L524.98 205.64 L525.43 205.47 L525.87 205.29 L526.31 205.11 L526.76 204.92 L527.20 204.74 L527.64 204.55 L528.07 204.36 L528.51 204.16 L528.95 203.97 L529.38 203.77 L529.81 203.57 L530.24 203.37 L530.67 203.17 L531.10 202.96 L531.53 202.75 L531.95 202.54 L532.38 202.33 L532.81 202.12 L533.23 201.90 L533.66 201.67 L534.08 201.45 L534.51 201.22 L534.93 200.99 L535.35 200.76 L535.76 200.52 L536.18 200.28 L536.59 200.04 L537.00 199.80 L537.41 199.55 L537.82 199.30 L538.22 199.04 L538.62 198.79 L539.02 198.53 L539.41 198.27 L539.80 198.00 L540.18 197.73 L540.57 197.46 L540.95 197.18 L541.33 196.89 L541.71 196.61 L542.09 196.31 L542.46 196.02 L542.84 195.72 L543.21 195.41 L543.57 195.10 L543.94 194.79 L544.30 194.48 L544.67 194.16 L545.02 193.84 L545.38 193.52 L545.73 193.19 L546.08 192.87 L546.43 192.54 L546.78 192.21 L547.12 191.88 L547.46 191.54 L547.79 191.21 L548.13 190.87 L548.46 190.54 L548.80 190.20 L549.14 189.86 L549.49 189.51 L549.83 189.17 L550.17 188.82 L550.51 188.47 L550.85 188.11 L551.18 187.76 L551.51 187.40 L551.84 187.03 L552.15 186.67 L552.46 186.30 L552.76 185.92 L553.05 185.55 L553.33 185.17 L553.60 184.78 L553.86 184.39 L554.10 184.00 L554.33 183.60 L554.55 183.20 L554.76 182.80 L554.95 182.38 L555.14 181.96 L555.33 181.53 L555.50 181.10 L555.68 180.66 L555.84 180.21 L556.01 179.76 L556.16 179.31 L556.32 178.85 L556.47 178.40 L556.62 177.93 L556.76 177.47 L556.91 177.01 L557.05 176.54 L557.19 176.08 L557.34 175.61 L557.48 175.15 L557.62 174.69 L557.77 174.23 L557.91 173.77 L558.06 173.31 L558.21 172.86 L558.36 172.41 L558.51 171.96 L558.66 171.51 L558.81 171.05 L558.96 170.60 L559.11 170.15 L559.25 169.69 L559.40 169.24 L559.54 168.78 L559.69 168.33 L559.83 167.87 L559.97 167.42 L560.11 166.96 L560.25 166.51 L560.39 166.05 L560.53 165.59 L560.66 165.14 L560.79 164.68 L560.92 164.22 L561.05 163.76 L561.18 163.30 L561.31 162.84 L561.44 162.39 L561.57 161.93 L561.69 161.47 L561.82 161.01 L561.95 160.55 L562.07 160.08 L562.19 159.62 L562.32 159.16 L562.44 158.70 L562.56 158.24 L562.68 157.78 L562.79 157.31 L562.91 156.85 L563.02 156.39 L563.13 155.92 L563.24 155.46 L563.34 154.99 L563.44 154.53 L563.54 154.06 L563.64 153.60 L563.73 153.13 L563.83 152.66 L563.92 152.20 L564.01 151.73 L564.10 151.26 L564.19 150.79 L564.28 150.32 L564.37 149.85 L564.45 149.38 L564.54 148.91 L564.62 148.44 L564.70 147.97 L564.78 147.50 L564.86 147.03 L564.93 146.56 L565.00 146.09 L565.07 145.62 L565.14 145.14 L565.20 144.67 L565.26 144.20 L565.32 143.73 L565.37 143.25 L565.42 142.78 L565.47 142.31 L565.52 141.83 L565.56 141.36 L565.61 140.89 L565.65 140.41 L565.69 139.94 L565.73 139.46 L565.77 138.99 L565.81 138.51 L565.84 138.04 L565.88 137.56 L565.91 137.08 L565.95 136.61 L565.98 136.13 L566.01 135.66 L566.04 135.18 L566.07 134.70 L566.10 134.23 L566.13 133.75 L566.16 133.27 L566.19 132.80 L566.22 132.32 L566.24 131.85 L566.27 131.37 L566.30 130.90 L566.32 130.42 L566.34 129.94 L566.37 129.47 L566.39 128.99 L566.41 128.52 L566.44 128.04 L566.46 127.56 L566.48 127.09 L566.50 126.61 L566.52 126.13 L566.54 125.66 L566.56 125.18 L566.59 124.71 L566.61 124.23 L566.63 123.75 L566.65 123.28 L566.67 122.80 L566.69 122.32 L566.72 121.85 L566.74 121.37 L566.76 120.90 L566.79 120.42 L566.81 119.94 L566.84 119.47 L566.86 118.99 L566.89 118.51 L566.92 118.04 L566.94 117.56 L566.97 117.09 L566.99 116.61 L567.01 116.13 L567.04 115.66 L567.06 115.18 L567.08 114.71 L567.10 114.23 L567.12 113.75 L567.14 113.28 L567.16 112.80 L567.18 112.32 L567.19 111.85 L567.20 111.37 L567.22 110.90 L567.23 110.42 L567.24 109.94 L567.25 109.47 L567.26 108.99 L567.27 108.51 L567.28 108.04 L567.29 107.56 L567.30 107.08 L567.30 106.61 L567.31 106.13 L567.32 105.65 L567.33 105.18 L567.34 104.70 L567.34 104.22 L567.35 103.75 L567.36 103.27 L567.37 102.79 L567.37 102.32 L567.38 101.84 L567.39 101.36 L567.40 100.89 L567.41 100.41 L567.42 99.93 L567.43 99.46 L567.44 98.98 L567.45 98.50 L567.46 98.03 L567.47 97.55 L567.48 97.07 L567.49 96.60 L567.50 96.12 L567.51 95.64 L567.52 95.17 L567.53 94.69 L567.54 94.21 L567.55 93.74 L567.56 93.26 L567.57 92.78 L567.58 92.31 L567.58 91.83 L567.59 91.35 L567.59 90.88 L567.60 90.40 L567.60 89.92 L567.60 89.45 L567.61 88.97 L567.61 88.49 L567.61 88.02 L567.62 87.54 L567.62 87.06 L567.62 86.59 L567.62 86.11 L567.63 85.63 L567.63 85.16 L567.63 84.68 L567.63 84.20 L567.64 83.73 L567.64 83.25 L567.64 82.77 L567.64 82.30 L567.65 81.82 L567.65 81.34 L567.65 80.87 L567.65 80.39 L567.65 79.91 L567.66 79.44 L567.66 78.96 L567.66 78.48 L567.66 78.01 L567.66 77.53 L567.67 77.05 L567.67 76.58 L567.67 76.10 L567.67 75.62 L567.67 75.15 L567.67 74.67 L567.68 74.19 L567.68 73.72 L567.68 73.24 L567.68 72.76 L567.68 72.29 L567.68 71.81 L567.68 71.33 L567.69 70.86 L567.69 70.38 L567.69 69.90 L567.69 69.43 L567.69 68.95 L567.69 68.47 L567.69 68.00 L567.69 67.52 L567.69 67.04 L567.69 66.57 L567.70 66.09 L567.70 65.61 L567.70 65.14 L567.70 64.66 L567.70 64.18 L567.70 63.71 L567.70 63.23 L567.70 62.75 L567.70 62.28 L567.70 61.80 L567.70 61.32 L567.70 60.85 L567.70 60.37 L567.70 59.89 L567.70 59.42 L567.70 58.94 L567.70 58.46 L567.70 57.99 L567.70 57.51 L567.70 57.03 L567.70 56.56 L567.70 56.08 L567.70 55.60 L567.70 55.13 L567.70 54.65 L567.70 54.17 L567.70 53.70 L567.70 53.22 L567.70 52.74 L567.70 52.27 L567.70 51.79 L567.70 51.31 L567.70 50.83 L567.70 50.36 L567.70 49.88 L567.70 49.40 L567.70 48.93 L567.70 48.45 L567.70 47.97 L567.70 47.50 L567.70 47.02 L567.70 46.54 L567.70 46.07 L567.70 45.59 L567.70 45.11 L567.70 44.64 L567.70 44.16 L567.70 43.68 L567.70 43.21 L567.70 42.73 L567.70 42.25 L567.70 41.78 L567.70 41.30 L567.70 40.82 L567.70 40.35 L567.70 39.87 L567.70 39.39 L567.70 38.92 L567.70 38.44 L567.70 37.96 L567.70 37.49 L567.70 37.01 L567.70 36.53 L567.70 36.06 L567.70 35.58 L567.70 35.10 L567.70 34.63 L567.70 34.15 L567.70 33.67 L567.70 33.20 L567.70 32.72 L567.70 32.24 L567.70 31.77 L567.70 31.29 L567.70 30.81 L567.70 30.34 L567.70 29.86 L567.70 29.38 L567.70 28.91 L567.70 28.43 L567.70 27.95 L567.70 27.48 L567.70 27.00" stroke="#ff0000" stroke-width="2.6" fill="none" stroke-dasharray="5.4 5.02"/>
<path d="M47.23 239.77L45.89 240.20L45.00 241.49L44.56 243.64L44.56 244.93L45.00 247.08L45.89 248.37L47.23 248.80L48.12 248.80L49.45 248.37L50.34 247.08L50.79 244.93L50.79 243.64L50.34 241.49L49.45 240.20L48.12 239.77L47.23 239.77M54.65 247.85L54.12 248.33L54.65 248.80L55.18 248.33L54.65 247.85M54.20 248.33L55.09 248.33M54.65 248.67L54.65 247.98M61.18 239.77L59.84 240.20L58.95 241.49L58.51 243.64L58.51 244.93L58.95 247.08L59.84 248.37L61.18 248.80L62.07 248.80L63.41 248.37L64.30 247.08L64.74 244.93L64.74 243.64L64.30 241.49L63.41 240.20L62.07 239.77L61.18 239.77M98.15 239.77L96.81 240.20L95.92 241.49L95.48 243.64L95.48 244.93L95.92 247.08L96.81 248.37L98.15 248.80L99.04 248.80L100.37 248.37L101.26 247.08L101.71 244.93L101.71 243.64L101.26 241.49L100.37 240.20L99.04 239.77L98.15 239.77M105.57 247.85L105.03 248.33L105.57 248.80L106.10 248.33L105.57 247.85M105.12 248.33L106.01 248.33M105.57 248.67L105.57 247.98M109.87 241.92L109.87 241.49L110.32 240.63L110.76 240.20L111.65 239.77L113.43 239.77L114.32 240.20L114.77 240.63L115.21 241.49L115.21 242.35L114.77 243.21L113.88 244.50L109.43 248.80L115.66 248.80M148.84 239.77L147.51 240.20L146.62 241.49L146.17 243.64L146.17 244.93L146.62 247.08L147.51 248.37L148.84 248.80L149.73 248.80L151.07 248.37L151.96 247.08L152.40 244.93L152.40 243.64L151.96 241.49L151.07 240.20L149.73 239.77L148.84 239.77M156.26 247.85L155.73 248.33L156.26 248.80L156.79 248.33L156.26 247.85M155.82 248.33L156.71 248.33M156.26 248.67L156.26 247.98M164.57 239.77L160.12 245.79L166.80 245.79M164.57 239.77L164.57 248.80M199.98 239.77L198.65 240.20L197.76 241.49L197.31 243.64L197.31 244.93L197.76 247.08L198.65 248.37L199.98 248.80L200.87 248.80L202.21 248.37L203.10 247.08L203.54 244.93L203.54 243.64L203.10 241.49L202.21 240.20L200.87 239.77L199.98 239.77M207.40 247.85L206.87 248.33L207.40 248.80L207.93 248.33L207.40 247.85M206.96 248.33L207.85 248.33M207.40 248.67L207.40 247.98M217.05 241.06L216.60 240.20L215.27 239.77L214.38 239.77L213.04 240.20L212.15 241.49L211.71 243.64L211.71 245.79L212.15 247.51L213.04 248.37L214.38 248.80L214.82 248.80L216.16 248.37L217.05 247.51L217.49 246.22L217.49 245.79L217.05 244.50L216.16 243.64L214.82 243.21L214.38 243.21L213.04 243.64L212.15 244.50L211.71 245.79M250.90 239.77L249.56 240.20L248.67 241.49L248.23 243.64L248.23 244.93L248.67 247.08L249.56 248.37L250.90 248.80L251.79 248.80L253.12 248.37L254.01 247.08L254.46 244.93L254.46 243.64L254.01 241.49L253.12 240.20L251.79 239.77L250.90 239.77M258.32 247.85L257.78 248.33L258.32 248.80L258.85 248.33L258.32 247.85M257.87 248.33L258.76 248.33M258.32 248.67L258.32 247.98M264.40 239.77L263.07 240.20L262.62 241.06L262.62 241.92L263.07 242.78L263.96 243.21L265.74 243.64L267.07 244.07L267.96 244.93L268.41 245.79L268.41 247.08L267.96 247.94L267.52 248.37L266.18 248.80L264.40 248.80L263.07 248.37L262.62 247.94L262.18 247.08L262.18 245.79L262.62 244.93L263.51 244.07L264.85 243.64L266.63 243.21L267.52 242.78L267.96 241.92L267.96 241.06L267.52 240.20L266.18 239.77L264.40 239.77M299.81 241.49L300.70 241.06L302.04 239.77L302.04 248.80M308.57 247.85L308.03 248.33L308.57 248.80L309.10 248.33L308.57 247.85M308.12 248.33L309.01 248.33M308.57 248.67L308.57 247.98M315.10 239.77L313.76 240.20L312.87 241.49L312.43 243.64L312.43 244.93L312.87 247.08L313.76 248.37L315.10 248.80L315.99 248.80L317.32 248.37L318.21 247.08L318.66 244.93L318.66 243.64L318.21 241.49L317.32 240.20L315.99 239.77L315.10 239.77M350.73 241.49L351.62 241.06L352.95 239.77L352.95 248.80M359.48 247.85L358.95 248.33L359.48 248.80L360.02 248.33L359.48 247.85M359.04 248.33L359.93 248.33M359.48 248.67L359.48 247.98M363.79 241.92L363.79 241.49L364.23 240.63L364.68 240.20L365.57 239.77L367.35 239.77L368.24 240.20L368.68 240.63L369.13 241.49L369.13 242.35L368.68 243.21L367.79 244.50L363.34 248.80L369.57 248.80M29.99 222.77L28.65 223.20L27.76 224.49L27.32 226.64L27.32 227.93L27.76 230.08L28.65 231.37L29.99 231.80L30.88 231.80L32.21 231.37L33.10 230.08L33.55 227.93L33.55 226.64L33.10 224.49L32.21 223.20L30.88 222.77L29.99 222.77M37.41 230.85L36.88 231.33L37.41 231.80L37.94 231.33L37.41 230.85M36.96 231.33L37.85 231.33M37.41 231.67L37.41 230.98M43.94 222.77L42.60 223.20L41.71 224.49L41.27 226.64L41.27 227.93L41.71 230.08L42.60 231.37L43.94 231.80L44.83 231.80L46.16 231.37L47.05 230.08L47.50 227.93L47.50 226.64L47.05 224.49L46.16 223.20L44.83 222.77L43.94 222.77M29.99 187.41L28.65 187.84L27.76 189.12L27.32 191.28L27.32 192.56L27.76 194.72L28.65 196.00L29.99 196.44L30.88 196.44L32.21 196.00L33.10 194.72L33.55 192.56L33.55 191.28L33.10 189.12L32.21 187.84L30.88 187.41L29.99 187.41M37.41 195.49L36.88 195.96L37.41 196.44L37.94 195.96L37.41 195.49M36.96 195.96L37.85 195.96M37.41 196.31L37.41 195.62M41.71 189.56L41.71 189.12L42.16 188.27L42.60 187.84L43.49 187.41L45.27 187.41L46.16 187.84L46.61 188.27L47.05 189.12L47.05 189.99L46.61 190.84L45.72 192.13L41.27 196.44L47.50 196.44M29.55 146.42L28.21 146.85L27.32 148.14L26.88 150.29L26.88 151.58L27.32 153.73L28.21 155.02L29.55 155.45L30.44 155.45L31.77 155.02L32.66 153.73L33.11 151.58L33.11 150.29L32.66 148.14L31.77 146.85L30.44 146.42L29.55 146.42M36.97 154.51L36.43 154.98L36.97 155.45L37.50 154.98L36.97 154.51M36.52 154.98L37.41 154.98M36.97 155.33L36.97 154.64M45.28 146.42L40.83 152.44L47.50 152.44M45.28 146.42L45.28 155.45M29.99 105.45L28.65 105.88L27.76 107.17L27.32 109.32L27.32 110.61L27.76 112.76L28.65 114.05L29.99 114.48L30.88 114.48L32.21 114.05L33.10 112.76L33.55 110.61L33.55 109.32L33.10 107.17L32.21 105.88L30.88 105.45L29.99 105.45M37.41 113.53L36.88 114.00L37.41 114.48L37.94 114.00L37.41 113.53M36.96 114.00L37.85 114.00M37.41 114.35L37.41 113.66M47.05 106.74L46.61 105.88L45.27 105.45L44.38 105.45L43.05 105.88L42.16 107.17L41.71 109.32L41.71 111.47L42.16 113.19L43.05 114.05L44.38 114.48L44.83 114.48L46.16 114.05L47.05 113.19L47.50 111.90L47.50 111.47L47.05 110.18L46.16 109.32L44.83 108.89L44.38 108.89L43.05 109.32L42.16 110.18L41.71 111.47M29.99 64.46L28.65 64.89L27.76 66.18L27.32 68.33L27.32 69.62L27.76 71.77L28.65 73.06L29.99 73.49L30.88 73.49L32.21 73.06L33.10 71.77L33.55 69.62L33.55 68.33L33.10 66.18L32.21 64.89L30.88 64.46L29.99 64.46M37.41 72.55L36.88 73.02L37.41 73.49L37.94 73.02L37.41 72.55M36.96 73.02L37.85 73.02M37.41 73.37L37.41 72.68M43.49 64.46L42.16 64.89L41.71 65.75L41.71 66.61L42.16 67.47L43.05 67.90L44.83 68.33L46.16 68.76L47.05 69.62L47.50 70.48L47.50 71.77L47.05 72.63L46.61 73.06L45.27 73.49L43.49 73.49L42.16 73.06L41.71 72.63L41.27 71.77L41.27 70.48L41.71 69.62L42.60 68.76L43.94 68.33L45.72 67.90L46.61 67.47L47.05 66.61L47.05 65.75L46.61 64.89L45.27 64.46L43.49 64.46M28.65 29.32L29.54 28.89L30.88 27.60L30.88 36.63M37.41 35.68L36.88 36.16L37.41 36.63L37.94 36.16L37.41 35.68M36.96 36.16L37.85 36.16M37.41 36.50L37.41 35.81M43.94 27.60L42.60 28.03L41.71 29.32L41.27 31.47L41.27 32.76L41.71 34.91L42.60 36.20L43.94 36.63L44.83 36.63L46.16 36.20L47.05 34.91L47.50 32.76L47.50 31.47L47.05 29.32L46.16 28.03L44.83 27.60L43.94 27.60M427.93 239.77L426.59 240.20L425.70 241.49L425.26 243.64L425.26 244.93L425.70 247.08L426.59 248.37L427.93 248.80L428.82 248.80L430.15 248.37L431.04 247.08L431.49 244.93L431.49 243.64L431.04 241.49L430.15 240.20L428.82 239.77L427.93 239.77M435.35 247.85L434.82 248.33L435.35 248.80L435.88 248.33L435.35 247.85M434.90 248.33L435.79 248.33M435.35 248.67L435.35 247.98M441.88 239.77L440.54 240.20L439.65 241.49L439.21 243.64L439.21 244.93L439.65 247.08L440.54 248.37L441.88 248.80L442.77 248.80L444.10 248.37L444.99 247.08L445.44 244.93L445.44 243.64L444.99 241.49L444.10 240.20L442.77 239.77L441.88 239.77M478.85 239.77L477.51 240.20L476.62 241.49L476.18 243.64L476.18 244.93L476.62 247.08L477.51 248.37L478.85 248.80L479.74 248.80L481.07 248.37L481.96 247.08L482.41 244.93L482.41 243.64L481.96 241.49L481.07 240.20L479.74 239.77L478.85 239.77M486.27 247.85L485.73 248.33L486.27 248.80L486.80 248.33L486.27 247.85M485.82 248.33L486.71 248.33M486.27 248.67L486.27 247.98M490.57 241.92L490.57 241.49L491.02 240.63L491.46 240.20L492.35 239.77L494.13 239.77L495.02 240.20L495.47 240.63L495.91 241.49L495.91 242.35L495.47 243.21L494.58 244.50L490.13 248.80L496.36 248.80M529.54 239.77L528.21 240.20L527.32 241.49L526.87 243.64L526.87 244.93L527.32 247.08L528.21 248.37L529.54 248.80L530.43 248.80L531.77 248.37L532.66 247.08L533.10 244.93L533.10 243.64L532.66 241.49L531.77 240.20L530.43 239.77L529.54 239.77M536.96 247.85L536.43 248.33L536.96 248.80L537.49 248.33L536.96 247.85M536.52 248.33L537.41 248.33M536.96 248.67L536.96 247.98M545.27 239.77L540.82 245.79L547.50 245.79M545.27 239.77L545.27 248.80M580.68 239.77L579.35 240.20L578.46 241.49L578.01 243.64L578.01 244.93L578.46 247.08L579.35 248.37L580.68 248.80L581.57 248.80L582.90 248.37L583.80 247.08L584.24 244.93L584.24 243.64L583.80 241.49L582.90 240.20L581.57 239.77L580.68 239.77M588.10 247.85L587.57 248.33L588.10 248.80L588.63 248.33L588.10 247.85M587.65 248.33L588.55 248.33M588.10 248.67L588.10 247.98M597.75 241.06L597.30 240.20L595.97 239.77L595.08 239.77L593.74 240.20L592.85 241.49L592.40 243.64L592.40 245.79L592.85 247.51L593.74 248.37L595.08 248.80L595.52 248.80L596.86 248.37L597.75 247.51L598.19 246.22L598.19 245.79L597.75 244.50L596.86 243.64L595.52 243.21L595.08 243.21L593.74 243.64L592.85 244.50L592.40 245.79M631.60 239.77L630.26 240.20L629.37 241.49L628.93 243.64L628.93 244.93L629.37 247.08L630.26 248.37L631.60 248.80L632.49 248.80L633.82 248.37L634.71 247.08L635.16 244.93L635.16 243.64L634.71 241.49L633.82 240.20L632.49 239.77L631.60 239.77M639.02 247.85L638.48 248.33L639.02 248.80L639.55 248.33L639.02 247.85M638.57 248.33L639.46 248.33M639.02 248.67L639.02 247.98M645.10 239.77L643.77 240.20L643.32 241.06L643.32 241.92L643.77 242.78L644.66 243.21L646.44 243.64L647.77 244.07L648.66 244.93L649.11 245.79L649.11 247.08L648.66 247.94L648.22 248.37L646.88 248.80L645.10 248.80L643.77 248.37L643.32 247.94L642.88 247.08L642.88 245.79L643.32 244.93L644.21 244.07L645.55 243.64L647.33 243.21L648.22 242.78L648.66 241.92L648.66 241.06L648.22 240.20L646.88 239.77L645.10 239.77M680.51 241.49L681.40 241.06L682.74 239.77L682.74 248.80M689.27 247.85L688.73 248.33L689.27 248.80L689.80 248.33L689.27 247.85M688.82 248.33L689.71 248.33M689.27 248.67L689.27 247.98M695.80 239.77L694.46 240.20L693.57 241.49L693.13 243.64L693.13 244.93L693.57 247.08L694.46 248.37L695.80 248.80L696.69 248.80L698.02 248.37L698.91 247.08L699.36 244.93L699.36 243.64L698.91 241.49L698.02 240.20L696.69 239.77L695.80 239.77M731.43 241.49L732.32 241.06L733.65 239.77L733.65 248.80M740.18 247.85L739.65 248.33L740.18 248.80L740.72 248.33L740.18 247.85M739.74 248.33L740.63 248.33M740.18 248.67L740.18 247.98M744.49 241.92L744.49 241.49L744.93 240.63L745.38 240.20L746.27 239.77L748.05 239.77L748.94 240.20L749.38 240.63L749.83 241.49L749.83 242.35L749.38 243.21L748.49 244.50L744.04 248.80L750.27 248.80M425.54 222.77L424.20 223.20L423.31 224.49L422.87 226.64L422.87 227.93L423.31 230.08L424.20 231.37L425.54 231.80L426.43 231.80L427.76 231.37L428.65 230.08L429.10 227.93L429.10 226.64L428.65 224.49L427.76 223.20L426.43 222.77L425.54 222.77M428.21 177.16L423.76 177.16L423.31 181.03L423.76 180.60L425.09 180.17L426.43 180.17L427.76 180.60L428.65 181.46L429.10 182.75L429.10 183.61L428.65 184.90L427.76 185.76L426.43 186.19L425.09 186.19L423.76 185.76L423.31 185.33L422.87 184.47M414.90 127.65L415.79 127.22L417.13 125.93L417.13 134.96M425.54 125.93L424.20 126.36L423.31 127.65L422.87 129.80L422.87 131.09L423.31 133.24L424.20 134.53L425.54 134.96L426.43 134.96L427.76 134.53L428.65 133.24L429.10 131.09L429.10 129.80L428.65 127.65L427.76 126.36L426.43 125.93L425.54 125.93M414.90 76.43L415.79 76.00L417.13 74.71L417.13 83.74M428.21 74.71L423.76 74.71L423.31 78.58L423.76 78.15L425.09 77.72L426.43 77.72L427.76 78.15L428.65 79.01L429.10 80.30L429.10 81.16L428.65 82.45L427.76 83.31L426.43 83.74L425.09 83.74L423.76 83.31L423.31 82.88L422.87 82.02M414.01 29.75L414.01 29.32L414.46 28.46L414.90 28.03L415.79 27.60L417.57 27.60L418.46 28.03L418.91 28.46L419.35 29.32L419.35 30.18L418.91 31.04L418.02 32.33L413.57 36.63L419.80 36.63M425.54 27.60L424.20 28.03L423.31 29.32L422.87 31.47L422.87 32.76L423.31 34.91L424.20 36.20L425.54 36.63L426.43 36.63L427.76 36.20L428.65 34.91L429.10 32.76L429.10 31.47L428.65 29.32L427.76 28.03L426.43 27.60L425.54 27.60M203.79 261.97L203.79 271.00M203.79 261.97L207.79 261.97L209.13 262.40L209.57 262.83L210.02 263.69L210.02 264.55L209.57 265.41L209.13 265.84L207.79 266.27M203.79 266.27L207.79 266.27L209.13 266.70L209.57 267.13L210.02 267.99L210.02 269.28L209.57 270.14L209.13 270.57L207.79 271.00L203.79 271.00M584.49 261.97L584.49 271.00M584.49 261.97L588.49 261.97L589.83 262.40L590.27 262.83L590.72 263.69L590.72 264.55L590.27 265.41L589.83 265.84L588.49 266.27M584.49 266.27L588.49 266.27L589.83 266.70L590.27 267.13L590.72 267.99L590.72 269.28L590.27 270.14L589.83 270.57L588.49 271.00L584.49 271.00" stroke="#4c4c4c" stroke-width="1.0" fill="none" stroke-linejoin="round" stroke-linecap="round"/>
<path transform="translate(9.7,142.9) rotate(-90)" d="M7.05 -6.72L6.58 -7.56L5.64 -8.40L4.70 -8.82L2.82 -8.82L1.88 -8.40L0.94 -7.56L0.47 -6.72L0.00 -5.46L0.00 -3.36L0.47 -2.10L0.94 -1.26L1.88 -0.42L2.82 0.00L4.70 0.00L5.64 -0.42L6.58 -1.26L7.05 -2.10" stroke="#4c4c4c" stroke-width="1.0" fill="none" stroke-linejoin="round" stroke-linecap="round"/>
<path transform="translate(12.9,133.3) rotate(-90)" d="M0.00 -3.83L0.40 -4.05L1.00 -4.73L1.00 0.00" stroke="#4c4c4c" stroke-width="1.0" fill="none" stroke-linejoin="round" stroke-linecap="round"/>
<path transform="translate(399.5,143.1) rotate(-90)" d="M0.00 -8.51L2.48 0.00M4.95 -8.51L2.48 0.00M4.95 -8.51L7.42 0.00M9.90 -8.51L7.42 0.00" stroke="#4c4c4c" stroke-width="1.0" fill="none" stroke-linejoin="round" stroke-linecap="round"/>
<text transform="translate(-0.4,15) scale(0.935,1)" class="pl">(a)</text>
<text transform="translate(390.4,15) scale(0.935,1)" class="pl">(b)</text>
</svg></body></html>
